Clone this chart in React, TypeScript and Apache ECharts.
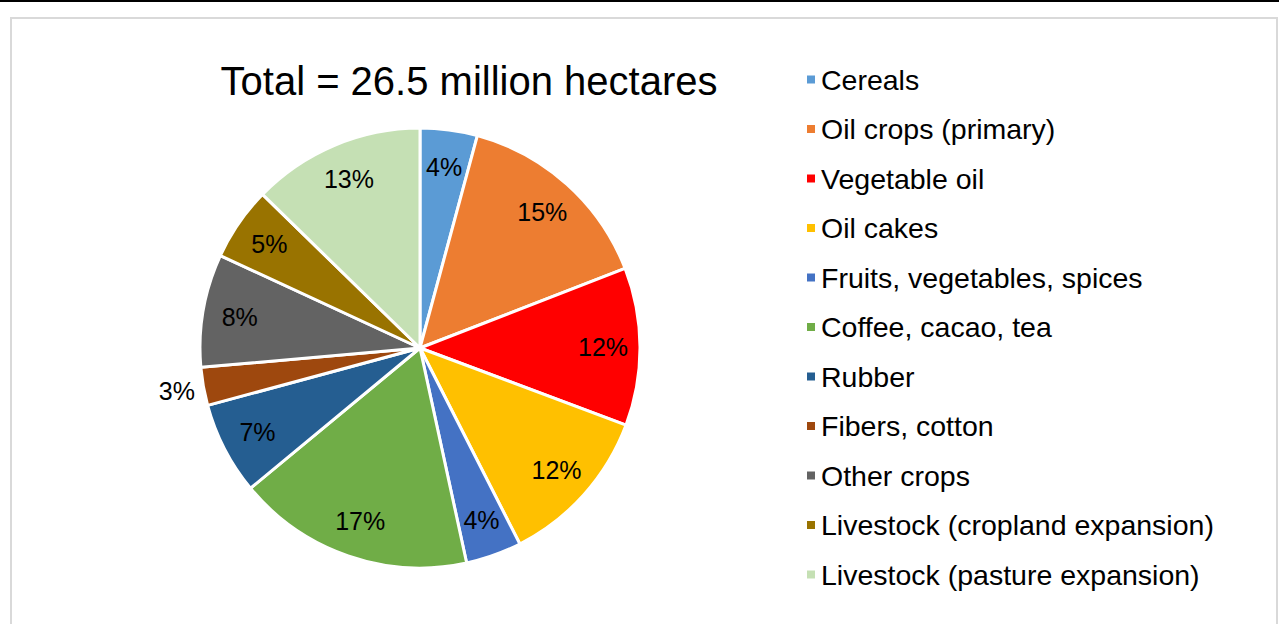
import React, { useEffect, useRef } from "react";
import * as echarts from "echarts";

const titleText = "Total = 26.5 million hectares";
const categories = [
  "Cereals",
  "Oil crops (primary)",
  "Vegetable oil",
  "Oil cakes",
  "Fruits, vegetables, spices",
  "Coffee, cacao, tea",
  "Rubber",
  "Fibers, cotton",
  "Other crops",
  "Livestock (cropland expansion)",
  "Livestock (pasture expansion)",
];
const shares = [4.2, 14.9, 11.6, 11.8, 4.1, 17.4, 6.8, 2.8, 8.3, 5.4, 12.7];
const colors = [
  "#5B9BD5",
  "#ED7D31",
  "#FF0000",
  "#FFC000",
  "#4472C4",
  "#70AD47",
  "#255E91",
  "#9E480E",
  "#636363",
  "#997300",
  "#C5E0B4",
];
const outsideLabels = ["Fibers, cotton"];

export default function App() {
  const ref = useRef<HTMLDivElement>(null);
  useEffect(() => {
    document.body.style.margin = "0";
    const chart = echarts.init(ref.current!, null, { renderer: "svg" });
    const fmt = (p: any) => Math.round(p.percent) + "%";
    const baseData = categories.map((c, i) => ({
      name: c,
      value: shares[i],
      itemStyle: { color: colors[i] },
    }));
    const labelFont = {
      fontFamily: "Liberation Sans, Arial, sans-serif",
      fontSize: 25,
      color: "#000",
    };
    const ghost = (radius: number, show: (n: string) => boolean) => ({
      type: "pie",
      center: [420, 348],
      radius: [0, radius],
      startAngle: 90,
      clockwise: true,
      silent: true,
      avoidLabelOverlap: false,
      tooltip: { show: false },
      emphasis: { disabled: true },
      labelLine: { show: false },
      itemStyle: { color: "rgba(0,0,0,0)", borderWidth: 0 },
      data: categories.map((c, i) => ({
        name: c,
        value: shares[i],
        itemStyle: { color: "rgba(0,0,0,0)" },
        label: {
          show: show(c),
          position: "inside",
          formatter: fmt,
          ...labelFont,
        },
      })),
    });
    chart.setOption({
      animation: false,
      color: colors,
      title: {
        text: titleText,
        left: 464,
        top: 56,
        textAlign: "center",
        textStyle: {
          fontFamily: "Liberation Sans, Arial, sans-serif",
          fontSize: 40,
          fontWeight: "normal",
          color: "#000",
        },
      },
      legend: {
        orient: "vertical",
        left: 800,
        top: 60,
        icon: "rect",
        itemWidth: 10,
        itemHeight: 10,
        itemGap: 20.5,
        data: categories,
        textStyle: {
          fontFamily: "Liberation Sans, Arial, sans-serif",
          fontSize: 28.5,
          lineHeight: 28,
          color: "#000",
          padding: [0, 0, 0, 0],
        },
      },
      graphic: [
        {
          type: "line",
          shape: { x1: 0, y1: 1, x2: 1279, y2: 1 },
          style: { stroke: "#000", lineWidth: 2 },
          silent: true,
        },
        {
          type: "rect",
          shape: { x: 11, y: 18, width: 1266, height: 700 },
          style: { fill: "none", stroke: "#D9D9D9", lineWidth: 2 },
          silent: true,
        },
      ],
      series: [
        {
          type: "pie",
          center: [420, 348],
          radius: [0, 220],
          startAngle: 90,
          clockwise: true,
          label: { show: false },
          labelLine: { show: false },
          itemStyle: { borderColor: "#fff", borderWidth: 3 },
          emphasis: { disabled: true },
          data: baseData,
        },
        ghost(360, (n) => !outsideLabels.includes(n)),
        ghost(488, (n) => outsideLabels.includes(n)),
      ],
    });
    return () => chart.dispose();
  }, []);
  return <div ref={ref} style={{ width: 1279, height: 624 }} />;
}
